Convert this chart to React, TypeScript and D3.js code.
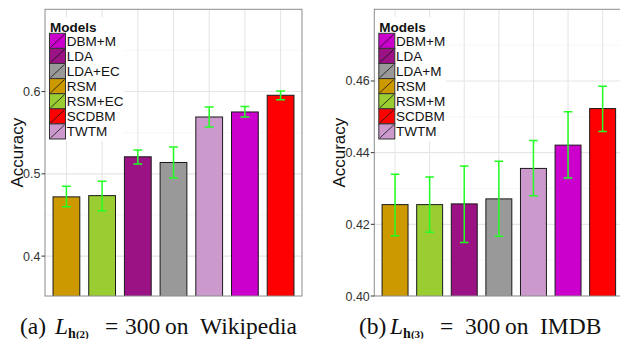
import React from "react";
import * as d3 from "d3";

// ---------- data ----------
const wikiModels = ["RSM", "RSM+EC", "LDA", "LDA+EC", "TWTM", "DBM+M", "SCDBM"];
const wikiAcc = [0.472, 0.4735, 0.5207, 0.5138, 0.5691, 0.5752, 0.5955];
const wikiLow = [0.46, 0.455, 0.512, 0.4948, 0.557, 0.569, 0.5902];
const wikiHigh = [0.485, 0.491, 0.529, 0.5326, 0.5813, 0.5817, 0.6008];
const wikiTicks = [0.4, 0.5, 0.6];
const wikiMinor = [0.45, 0.55, 0.65];
const wikiLegend = ["DBM+M", "LDA", "LDA+EC", "RSM", "RSM+EC", "SCDBM", "TWTM"];

const imdbModels = ["RSM", "RSM+M", "LDA", "LDA+M", "TWTM", "DBM+M", "SCDBM"];
const imdbAcc = [0.4255, 0.4255, 0.4257, 0.4271, 0.4356, 0.4421, 0.4523];
const imdbLow = [0.4168, 0.4178, 0.4149, 0.4167, 0.428, 0.4329, 0.4459];
const imdbHigh = [0.434, 0.4332, 0.4363, 0.4376, 0.4434, 0.4514, 0.4585];
const imdbTicks = [0.4, 0.42, 0.44, 0.46];
const imdbMinor = [0.41, 0.43, 0.45, 0.47];
const imdbLegend = ["DBM+M", "LDA", "LDA+M", "RSM", "RSM+M", "SCDBM", "TWTM"];

const colorOf: Record<string, string> = {
  "DBM+M": "#CC00CC",
  LDA: "#9A1284",
  "LDA+EC": "#999999",
  "LDA+M": "#999999",
  RSM: "#CC9900",
  "RSM+EC": "#9ACD32",
  "RSM+M": "#9ACD32",
  SCDBM: "#FF0000",
  TWTM: "#CC99CC",
};

const SANS = "'Liberation Sans', Arial, Helvetica, sans-serif";
const SERIF = "'Liberation Serif', 'Times New Roman', serif";

type PanelProps = {
  id: string;
  models: string[];
  acc: number[];
  low: number[];
  high: number[];
  ticks: number[];
  minor: number[];
  legend: string[];
  domain: [number, number];
  fmt: string;
  left: number;
  right: number;
  axisTitleX: number;
  legendW: number;
};

const TOP = 9.3;
const BOTTOM = 296;

function Panel(p: PanelProps) {
  const x = d3
    .scaleBand<string>()
    .domain(p.models)
    .range([p.left, p.right])
    .paddingInner(0.25)
    .paddingOuter(0.225);
  const y = d3.scaleLinear().domain(p.domain).range([BOTTOM, TOP]);
  const fmt = d3.format(p.fmt);
  const bw = x.bandwidth();
  const step = x.step();
  const cap = step * 0.125;
  const keyX = p.left + 4.5;
  const keyTop = 33.3;
  const keyH = 15.1;
  const keyW = 16;
  const clip = `clip-${p.id}`;
  return (
    <g>
      <defs>
        <clipPath id={clip}>
          <rect x={p.left} y={TOP} width={p.right - p.left} height={BOTTOM - TOP} />
        </clipPath>
      </defs>
      <rect x={p.left} y={TOP} width={p.right - p.left} height={BOTTOM - TOP} fill="#fff" />
      <g clipPath={`url(#${clip})`}>
        {p.minor.map((t) => (
          <line key={"mn" + t} x1={p.left} x2={p.right} y1={y(t)} y2={y(t)} stroke="#F2F2F2" strokeWidth={0.6} />
        ))}
        {p.ticks.map((t) => (
          <line key={"mj" + t} x1={p.left} x2={p.right} y1={y(t)} y2={y(t)} stroke="#E6E6E6" strokeWidth={1.1} />
        ))}
        {p.models.map((m) => (
          <line
            key={"v" + m}
            x1={(x(m) as number) + bw / 2}
            x2={(x(m) as number) + bw / 2}
            y1={TOP}
            y2={BOTTOM}
            stroke="#E6E6E6"
            strokeWidth={1.1}
          />
        ))}
        {/* legend background */}
        <rect x={keyX - 2} y={17} width={p.legendW} height={keyTop + keyH * 7 + 2 - 17} fill="#fff" />
        {p.models.map((m, i) => (
          <rect
            key={"b" + m}
            x={x(m) as number}
            y={y(p.acc[i])}
            width={bw}
            height={BOTTOM + 5 - y(p.acc[i])}
            fill={colorOf[m]}
            stroke="#1a1a1a"
            strokeWidth={1}
          />
        ))}
        {p.models.map((m, i) => {
          const cx = (x(m) as number) + bw / 2;
          return (
            <g key={"e" + m} stroke="#22FF22" strokeWidth={1.5}>
              <line x1={cx} x2={cx} y1={y(p.high[i])} y2={y(p.low[i])} />
              <line x1={cx - cap} x2={cx + cap} y1={y(p.high[i])} y2={y(p.high[i])} />
              <line x1={cx - cap} x2={cx + cap} y1={y(p.low[i])} y2={y(p.low[i])} />
            </g>
          );
        })}
      </g>
      <rect
        x={p.left}
        y={TOP}
        width={p.right - p.left}
        height={BOTTOM - TOP}
        fill="none"
        stroke="#8C8C8C"
        strokeWidth={1}
      />
      {/* y axis */}
      {p.ticks.map((t) => (
        <g key={"t" + t}>
          <line x1={p.left - 3.5} x2={p.left} y1={y(t)} y2={y(t)} stroke="#333" strokeWidth={1} />
          <text
            x={p.left - 4.5}
            y={y(t)}
            dy="0.36em"
            textAnchor="end"
            fontFamily={SANS}
            fontSize={12.5}
            fill="#333"
          >
            {fmt(t)}
          </text>
        </g>
      ))}
      <text
        transform={`translate(${p.axisTitleX},${(TOP + BOTTOM) / 2}) rotate(-90)`}
        textAnchor="middle"
        dy="0.36em"
        fontFamily={SANS}
        fontSize={17}
        fill="#111"
      >
        Accuracy
      </text>
      {/* legend */}
      <text x={keyX + 0.5} y={32.3} fontFamily={SANS} fontSize={13.5} fontWeight="bold" fill="#111">
        Models
      </text>
      {p.legend.map((m, i) => {
        const ky = keyTop + i * keyH;
        return (
          <g key={"l" + m}>
            <rect x={keyX} y={ky} width={keyW} height={keyH} fill={colorOf[m]} stroke="#333" strokeWidth={1} />
            <line x1={keyX + 1} y1={ky + keyH - 1} x2={keyX + keyW - 1} y2={ky + 1} stroke="#111" strokeWidth={0.8} />
            <text x={keyX + keyW + 1.3} y={ky + 12.5} fontFamily={SANS} fontSize={13.5} fill="#111">
              {m}
            </text>
          </g>
        );
      })}
    </g>
  );
}

function Caption({ x0, label, sub, word, offs }: { x0: number; label: string; sub: string; word: string; offs: number[] }) {
  const base = 334;
  return (
    <text y={base} fontFamily={SERIF} fontSize={23.5} fill="#111">
      <tspan x={x0}>{label}</tspan>
      <tspan x={x0 + offs[0]} fontStyle="italic">
        L
      </tspan>
      <tspan dy={3.5} fontSize={14} fontWeight="bold">
        h
      </tspan>
      <tspan fontSize={11} fontWeight="bold">
        {sub}
      </tspan>
      <tspan x={x0 + offs[1]} dy={-3.5}>
        =
      </tspan>
      <tspan x={x0 + offs[2]}>300</tspan>
      <tspan x={x0 + offs[3]}>on</tspan>
      <tspan x={x0 + offs[4]}>{word}</tspan>
    </text>
  );
}

export default function App() {
  return (
    <div style={{ position: "absolute", left: 0, top: 0 }}>
      <svg width={620} height={339} style={{ display: "block", background: "#fff" }}>
        <Panel
          id="wiki"
          models={wikiModels}
          acc={wikiAcc}
          low={wikiLow}
          high={wikiHigh}
          ticks={wikiTicks}
          minor={wikiMinor}
          legend={wikiLegend}
          domain={[0.3515, 0.7]}
          fmt=".1f"
          left={45}
          right={302}
          axisTitleX={16.5}
          legendW={76}
        />
        <Panel
          id="imdb"
          models={imdbModels}
          acc={imdbAcc}
          low={imdbLow}
          high={imdbHigh}
          ticks={imdbTicks}
          minor={imdbMinor}
          legend={imdbLegend}
          domain={[0.4, 0.48]}
          fmt=".2f"
          left={374.3}
          right={623.4}
          axisTitleX={338.5}
          legendW={69}
        />
        <Caption x0={20} label="(a)" sub="(2)" word="Wikipedia" offs={[35, 85, 105, 145, 180]} />
        <Caption x0={359} label="(b)" sub="(3)" word="IMDB" offs={[31, 81, 106, 146, 181]} />
      </svg>
    </div>
  );
}
